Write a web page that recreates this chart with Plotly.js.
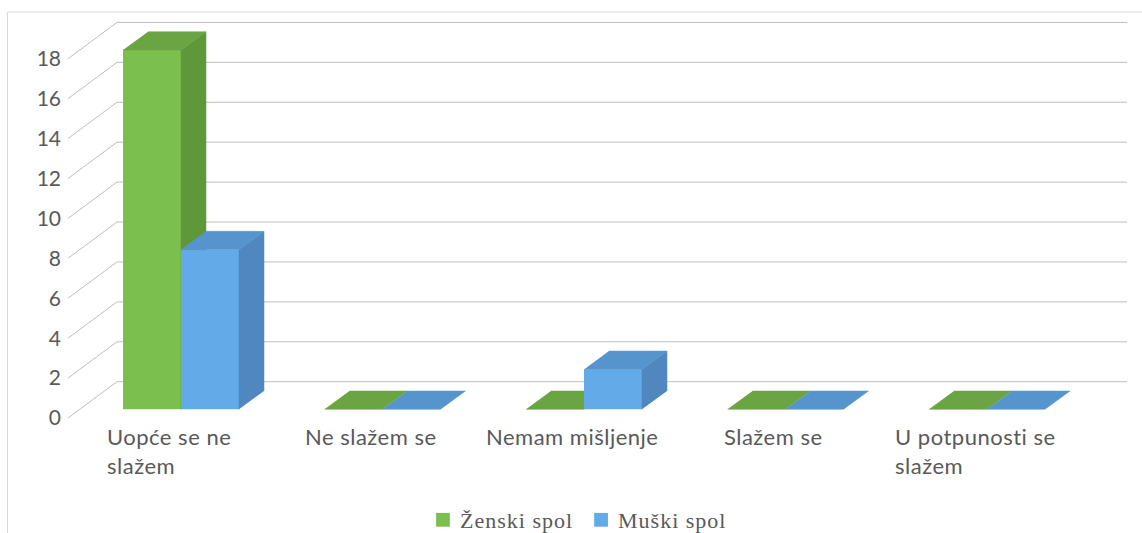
<!DOCTYPE html>
<html>
<head>
<meta charset="utf-8">
<script src="https://cdn.plot.ly/plotly-3.0.1.min.js"></script>
<style>
  html, body { margin: 0; padding: 0; background: #ffffff; }
  #chart { width: 1142px; height: 533px; }
  .annotation-text { letter-spacing: 0.5px; }
  .legendtext { letter-spacing: 1px; }
  .legendpoints { transform: scale(1.15); }
</style>
</head>
<body>
<div id="chart"></div>
<script>
// ---- data ----
const categories = ["Uopće se ne slažem", "Ne slažem se", "Nemam mišljenje", "Slažem se", "U potpunosti se slažem"];
const categoryLabels = ["Uopće se ne<br>slažem", "Ne slažem se", "Nemam mišljenje", "Slažem se", "U potpunosti se<br>slažem"];
const seriesNames = ["Ženski spol", "Muški spol"];
const zenskiSpol = [18, 0, 0, 0, 0];
const muskiSpol = [8, 0, 2, 0, 0];
const yTicks = [0, 2, 4, 6, 8, 10, 12, 14, 16, 18];

// ---- geometry / style (not data) ----
const catX = categories.map((_, i) => i);
const BW = 0.2878;            // bar width (category units)
const DX = 0.124, DY = 0.917; // bar depth offset in data units
const WALL = { fx: -0.5608, bx: -0.3176, ex: 4.695, fy: -0.436, by: 1.383 };
const XR = [-0.8983, 4.7692];
const YR = [-6.197, 20.506];

const COL = {
  green: { front: "#7bbf4f", top: "#6ba443", side: "#5f983a" },
  blue:  { front: "#63aae9", top: "#5694cd", side: "#4f87be" }
};
const FONT = "Lato, 'Open Sans', sans-serif";
const TXT = "#595959";

function faces(vals, off) {
  const top = { x: [], y: [] }, side = { x: [], y: [] };
  vals.forEach((v, i) => {
    const xl = catX[i] + off, xr = xl + BW;
    top.x.push(xl, xr, xr + DX, xl + DX, null);
    top.y.push(v, v, v + DY, v + DY, null);
    if (v > 0) {
      side.x.push(xr, xr, xr + DX, xr + DX, null);
      side.y.push(0, v, v + DY, DY, null);
    }
  });
  return { top, side };
}

function seriesTraces(vals, off, col, name, yax) {
  const f = faces(vals, off);
  return [
    { type: "bar", x: catX, y: vals, width: vals.map(() => BW), offset: vals.map(() => off),
      name: name, yaxis: yax, marker: { color: col.front, line: { width: 0 } },
      hoverinfo: "skip", showlegend: true },
    { type: "scatter", mode: "lines", x: f.side.x, y: f.side.y, fill: "toself", fillcolor: col.side,
      line: { color: col.side, width: 0.5 }, yaxis: yax, hoverinfo: "skip", showlegend: false },
    { type: "scatter", mode: "lines", x: f.top.x, y: f.top.y, fill: "toself", fillcolor: col.top,
      line: { color: col.top, width: 0.5 }, yaxis: yax, hoverinfo: "skip", showlegend: false }
  ];
}

const traces = [
  ...seriesTraces(zenskiSpol, -BW, COL.green, seriesNames[0], "y"),
  ...seriesTraces(muskiSpol, 0, COL.blue, seriesNames[1], "y2"),
  { type: "scatter", x: [], y: [], yaxis: "y3", showlegend: false, hoverinfo: "skip" }
];

// wall gridlines
const shapes = [
  { type: "rect", xref: "paper", yref: "paper", x0: 7.5 / 1142, x1: 1.02, y0: -0.05, y1: 1 - 12 / 533,
    line: { color: "#d9d9d9", width: 1 }, fillcolor: "rgba(0,0,0,0)", layer: "below" }
];
yTicks.forEach(v => {
  shapes.push({ type: "line", xref: "x", yref: "y", layer: "below",
    x0: WALL.fx, y0: v + WALL.fy, x1: WALL.bx, y1: v + WALL.by, line: { color: "#bfbfbf", width: 1 } });
  shapes.push({ type: "line", xref: "x", yref: "y", layer: "below",
    x0: WALL.bx, y0: v + WALL.by, x1: WALL.ex, y1: v + WALL.by, line: { color: "#bfbfbf", width: 1 } });
});

const annotations = categoryLabels.map((t, i) => ({
  x: catX[i], xref: "x", y: 1 - 421 / 533, yref: "paper",
  text: t, showarrow: false, xanchor: "center", yanchor: "top", align: "left", xshift: -12,
  font: { family: FONT, size: 22, color: TXT }
}));

const hidden = { showgrid: false, zeroline: false, showticklabels: false, showline: false, ticks: "", fixedrange: true };

const layout = {
  width: 1142, height: 533, autosize: false,
  margin: { l: 0, r: 0, t: 0, b: 0, pad: 0, autoexpand: false },
  paper_bgcolor: "#ffffff", plot_bgcolor: "rgba(0,0,0,0)",
  barmode: "overlay",
  xaxis: Object.assign({ range: XR }, hidden),
  yaxis: Object.assign({ range: YR }, hidden),
  yaxis2: Object.assign({ range: YR, overlaying: "y" }, hidden),
  yaxis3: {
    range: [YR[0] - WALL.fy, YR[1] - WALL.fy], overlaying: "y", anchor: "free", position: 68 / 1142,
    side: "left", showgrid: false, zeroline: false, showline: false, ticks: "",
    tickvals: yTicks, ticktext: yTicks.map(String), ticklabelstandoff: 7,
    tickfont: { family: FONT, size: 21, color: TXT }, fixedrange: true
  },
  shapes: shapes,
  annotations: annotations,
  showlegend: true,
  legend: {
    orientation: "h", x: 576 / 1142, xanchor: "center", y: 1 - 520 / 533, yanchor: "middle",
    font: { family: "'Liberation Serif', 'Times New Roman', serif", size: 22, color: TXT },
    itemwidth: 30, traceorder: "normal", bgcolor: "rgba(0,0,0,0)"
  },
  hovermode: false
};

Plotly.newPlot("chart", traces, layout, { staticPlot: true, displayModeBar: false });
</script>
</body>
</html>
